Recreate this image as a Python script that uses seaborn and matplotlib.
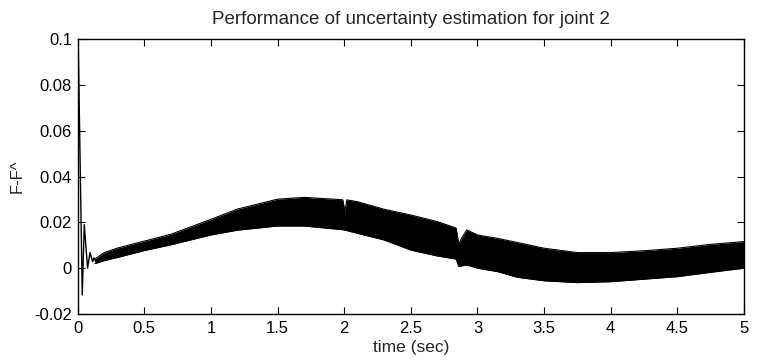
import matplotlib
matplotlib.use("Agg")
import matplotlib.pyplot as plt
import seaborn as sns
import numpy as np
import pandas as pd

# initial transient
t_trans = [0.0, 0.005, 0.035, 0.05, 0.075, 0.093, 0.113, 0.123, 0.135]
v_trans = [0.094, 0.097, -0.0117, 0.019, 0.0, 0.0068, 0.0028, 0.0045, 0.003]

# envelope of the fast oscillation band
t_band = [0.13, 0.2, 0.3, 0.5, 0.7, 1.0, 1.2, 1.5, 1.7, 1.95, 1.99, 2.005, 2.02,
          2.1, 2.3, 2.5, 2.7, 2.84, 2.86, 2.88, 2.92, 3.0, 3.15, 3.3, 3.5, 3.75,
          4.0, 4.25, 4.5, 4.75, 5.0]
upper = [0.004, 0.0068, 0.0088, 0.0118, 0.0148, 0.0213, 0.0258, 0.0301, 0.0309,
         0.0300, 0.0298, 0.0247, 0.0298, 0.0290, 0.0257, 0.0232, 0.0203, 0.0175,
         0.0105, 0.0130, 0.0167, 0.0145, 0.0130, 0.0112, 0.0087, 0.0068, 0.0068,
         0.0076, 0.0087, 0.0104, 0.0116]
lower = [0.002, 0.0033, 0.0047, 0.0077, 0.0102, 0.0145, 0.0166, 0.0184, 0.0184,
         0.0170, 0.0168, 0.0166, 0.0164, 0.0152, 0.0123, 0.0079, 0.0053, 0.0040,
         0.0007, 0.0010, 0.0014, 0.0000, -0.0015, -0.0040, -0.0055, -0.0063,
         -0.0059, -0.0048, -0.0037, -0.0018, 0.0000]

x_ticks = [0, 0.5, 1, 1.5, 2, 2.5, 3, 3.5, 4, 4.5, 5]
x_ticklabels = ["0", "0.5", "1", "1.5", "2", "2.5", "3", "3.5", "4", "4.5", "5"]
y_ticks = [-0.02, 0, 0.02, 0.04, 0.06, 0.08, 0.1]
y_ticklabels = ["-0.02", "0", "0.02", "0.04", "0.06", "0.08", "0.1"]

sns.set_style("ticks")
plt.rcParams["font.family"] = ["Liberation Sans", "DejaVu Sans"]
plt.rcParams["xtick.direction"] = "in"
plt.rcParams["ytick.direction"] = "in"

fig = plt.figure(figsize=(7.59, 3.61), dpi=100)
ax = fig.add_axes([77.6 / 759, 1 - 314 / 361, (744 - 77.6) / 759, (314 - 39) / 361])

df_trans = pd.DataFrame({"t": t_trans, "v": v_trans})
df_band = pd.DataFrame({"t": t_band, "upper": upper, "lower": lower})

ax.fill_between(df_band["t"], df_band["lower"], df_band["upper"], color="black", lw=0)
sns.lineplot(data=df_band, x="t", y="upper", ax=ax, color="black", lw=0.8)
sns.lineplot(data=df_band, x="t", y="lower", ax=ax, color="black", lw=0.8)
sns.lineplot(data=df_trans, x="t", y="v", ax=ax, color="black", lw=1.0, sort=False)

ax.set_xlim(0, 5)
ax.set_ylim(-0.02, 0.1)
ax.set_xticks(x_ticks)
ax.set_xticklabels(x_ticklabels)
ax.set_yticks(y_ticks)
ax.set_yticklabels(y_ticklabels)
ax.tick_params(axis="both", which="both", direction="in", length=5, width=0.8,
               top=True, right=True, labelsize=12, colors="black", pad=4)
ax.tick_params(axis="x", pad=5)
for s in ax.spines.values():
    s.set_visible(True)
    s.set_color("black")
    s.set_linewidth(1.0)

ax.set_xlabel("time (sec)", fontsize=12.5)
ax.set_ylabel("F-F^", fontsize=12)
ax.xaxis.set_label_coords(0.5, (314 - 340) / 275)
ax.yaxis.set_label_coords((25 - 77.6) / 666.4, 0.5)
ax.set_title("Performance of uncertainty estimation for joint 2", fontsize=13.5, pad=11)

fig.savefig("out.png", dpi=100)
